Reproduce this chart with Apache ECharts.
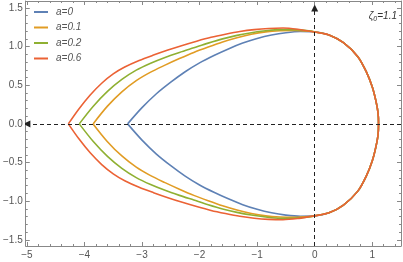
<!DOCTYPE html>
<html>
<head>
<meta charset="utf-8">
<script src="https://cdn.jsdelivr.net/npm/echarts@6/dist/echarts.min.js"></script>
<style>html,body{margin:0;padding:0;background:#fff}#c{width:403px;height:262px}</style>
</head>
<body>
<div id="c"></div>
<script>
// ---- data ----
const seriesNames = ['a=0', 'a=0.1', 'a=0.2', 'a=0.6'];
const xTicks = [-5, -4, -3, -2, -1, 0, 1];
const yTicks = [-1.5, -1, -0.5, 0, 0.5, 1, 1.5];

// shared right-hand arc (x >= 0), top to bottom
const rightArc = [[0,1.19],[0.25,1.15],[0.5,1.05],[0.75,0.87],[0.9,0.67],[1.0,0.48],[1.06,0.31],[1.1,0.15],[1.11,0],
  [1.1,-0.15],[1.06,-0.31],[1.0,-0.48],[0.9,-0.67],[0.75,-0.87],[0.5,-1.05],[0.25,-1.15],[0,-1.19]];

// upper / lower left branches, from the cusp towards x = 0
const upperA0 = [[-3.25,0],[-3.0,0.21],[-2.75,0.39],[-2.5,0.54],[-2.25,0.675],[-2.0,0.79],[-1.75,0.885],[-1.5,0.97],[-1.25,1.045],[-1.0,1.105],[-0.75,1.15],[-0.5,1.18],[-0.25,1.195]];
const lowerA0 = [[-3.25,0],[-3.0,-0.21],[-2.75,-0.39],[-2.5,-0.54],[-2.25,-0.675],[-2.0,-0.79],[-1.75,-0.885],[-1.5,-0.97],[-1.25,-1.045],[-1.0,-1.105],[-0.75,-1.15],[-0.5,-1.18],[-0.25,-1.195]];

const upperA01 = [[-3.85,0],[-3.6,0.23],[-3.35,0.415],[-3.1,0.56],[-2.85,0.67],[-2.6,0.76],[-2.35,0.845],[-2.1,0.925],[-1.85,0.995],[-1.6,1.06],[-1.35,1.115],[-1.1,1.16],[-0.85,1.19],[-0.6,1.205],[-0.35,1.21],[-0.1,1.2]];
const lowerA01 = [[-3.85,0],[-3.6,-0.23],[-3.35,-0.415],[-3.1,-0.56],[-2.85,-0.67],[-2.6,-0.76],[-2.35,-0.845],[-2.1,-0.925],[-1.85,-0.995],[-1.6,-1.06],[-1.35,-1.115],[-1.1,-1.16],[-0.85,-1.19],[-0.6,-1.205],[-0.35,-1.21],[-0.1,-1.2]];

const upperA02 = [[-4.09,0],[-3.85,0.225],[-3.6,0.42],[-3.35,0.575],[-3.1,0.695],[-2.85,0.785],[-2.6,0.86],[-2.35,0.925],[-2.1,0.985],[-1.85,1.045],[-1.6,1.1],[-1.35,1.145],[-1.1,1.18],[-0.85,1.205],[-0.6,1.22],[-0.35,1.22],[-0.1,1.205]];
const lowerA02 = [[-4.09,0],[-3.85,-0.225],[-3.6,-0.42],[-3.35,-0.575],[-3.1,-0.695],[-2.85,-0.785],[-2.6,-0.86],[-2.35,-0.925],[-2.1,-0.985],[-1.85,-1.045],[-1.6,-1.1],[-1.35,-1.145],[-1.1,-1.18],[-0.85,-1.205],[-0.6,-1.22],[-0.35,-1.22],[-0.1,-1.205]];

const upperA06 = [[-4.28,0],[-4.1,0.19],[-3.9,0.374],[-3.7,0.526],[-3.5,0.646],[-3.3,0.735],[-3.05,0.82],[-2.8,0.89],[-2.55,0.955],[-2.3,1.015],[-2.05,1.07],[-1.8,1.12],[-1.55,1.16],[-1.3,1.195],[-1.05,1.22],[-0.8,1.235],[-0.55,1.24],[-0.3,1.225],[-0.05,1.195]];
const lowerA06 = [[-4.28,0],[-4.1,-0.19],[-3.9,-0.374],[-3.7,-0.526],[-3.5,-0.646],[-3.3,-0.735],[-3.05,-0.82],[-2.8,-0.89],[-2.55,-0.955],[-2.3,-1.015],[-2.05,-1.07],[-1.8,-1.12],[-1.55,-1.16],[-1.3,-1.195],[-1.05,-1.22],[-0.8,-1.235],[-0.55,-1.24],[-0.3,-1.225],[-0.05,-1.195]];

const hAxisLine = [[1.5,0],[-5.0,0]];
const vAxisLine = [[0,-1.58],[0,1.5]];

// ---- styling / layout ----
const colors = ['#5E81B5', '#E19C24', '#8FB032', '#EB6235'];
const X_MIN = -5.02, X_MAX = 1.5, Y_MIN = -1.58, Y_MAX = 1.59;
const frameColor = '#888';
const labelFont = "'Liberation Sans Narrow', 'Liberation Sans', Arial, sans-serif";

const xMinorTicks = []; for (let i = -25; i <= 7; i++) xMinorTicks.push(Math.round(i * 2) / 10);
const yMinorTicks = []; for (let i = -15; i <= 15; i++) yMinorTicks.push(i / 10);

function closedCurve(upper, lower) {
  return upper.concat(rightArc, lower.slice().reverse());
}
const curves = [closedCurve(upperA0, lowerA0), closedCurve(upperA01, lowerA01),
                closedCurve(upperA02, lowerA02), closedCurve(upperA06, lowerA06)];

const fmtMinus = s => s.replace('-', '\u2212');
function xAxisDef(pos, minor, labels) {
  return {
    type: 'value', position: pos, min: X_MIN, max: X_MAX,
    axisLine: { show: !minor, onZero: false, lineStyle: { color: frameColor, width: 1 } },
    axisTick: { show: true, inside: true, length: minor ? 2 : 4, customValues: minor ? xMinorTicks : xTicks,
      lineStyle: { color: frameColor } },
    axisLabel: { show: labels, customValues: xTicks, margin: 4, color: '#555', fontSize: 10, fontFamily: labelFont,
      formatter: v => fmtMinus(String(v)) },
    splitLine: { show: false }
  };
}
function yAxisDef(pos, minor, labels) {
  return {
    type: 'value', position: pos, min: Y_MIN, max: Y_MAX,
    axisLine: { show: !minor, onZero: false, lineStyle: { color: frameColor, width: 1 } },
    axisTick: { show: true, inside: true, length: minor ? 2 : 4, customValues: minor ? yMinorTicks : yTicks,
      lineStyle: { color: frameColor } },
    axisLabel: { show: labels, customValues: yTicks, margin: 3, color: '#555', fontSize: 10, fontFamily: labelFont,
      formatter: v => fmtMinus(v.toFixed(1)) },
    splitLine: { show: false }
  };
}

const chart = echarts.init(document.getElementById('c'), null, { renderer: 'canvas' });
const series = seriesNames.map((n, i) => ({
  name: n, type: 'line', data: curves[i], xAxisIndex: 0, yAxisIndex: 0,
  showSymbol: false, symbol: 'none', smooth: 0.3, z: 3,
  lineStyle: { color: colors[i], width: 1.6 }, itemStyle: { color: colors[i] }
}));
[hAxisLine, vAxisLine].forEach(c => series.push({
  type: 'lines', coordinateSystem: 'cartesian2d', xAxisIndex: 0, yAxisIndex: 0, z: 5,
  symbol: ['none', 'triangle'], symbolSize: [0, 7], silent: true,
  lineStyle: { color: '#222', width: 1, type: [4, 3], opacity: 1 },
  data: [{ coords: c }]
}));

chart.setOption({
  animation: false,
  backgroundColor: '#fff',
  grid: { left: 19, right: 2, top: 1, bottom: 16, containLabel: false },
  xAxis: [xAxisDef('bottom', false, true), xAxisDef('bottom', true, false), xAxisDef('top', false, false), xAxisDef('top', true, false)],
  yAxis: [yAxisDef('left', false, true), yAxisDef('left', true, false), yAxisDef('right', false, false), yAxisDef('right', true, false)],
  legend: {
    data: seriesNames.map(n => ({ name: n, icon: 'rect' })), orient: 'vertical', left: 29, top: 1,
    itemWidth: 14, itemHeight: 2, itemGap: 3.5,
    textStyle: { fontSize: 10, fontStyle: 'italic', color: '#555', fontFamily: labelFont, lineHeight: 12, padding: [0, 0, 0, 3] }
  },
  graphic: [{
    type: 'text', right: 6, top: 11,
    style: {
      text: '{a|ζ}{b|0}{a|=1.1}',
      rich: {
        a: { fontSize: 10, fontStyle: 'italic', fill: '#333', fontFamily: labelFont, lineHeight: 12, verticalAlign: 'bottom' },
        b: { fontSize: 7, fontStyle: 'italic', fill: '#333', fontFamily: labelFont, lineHeight: 8, verticalAlign: 'bottom', padding: [0, 0, -2, 0] }
      }
    }
  }],
  series: series
});
</script>
</body>
</html>
